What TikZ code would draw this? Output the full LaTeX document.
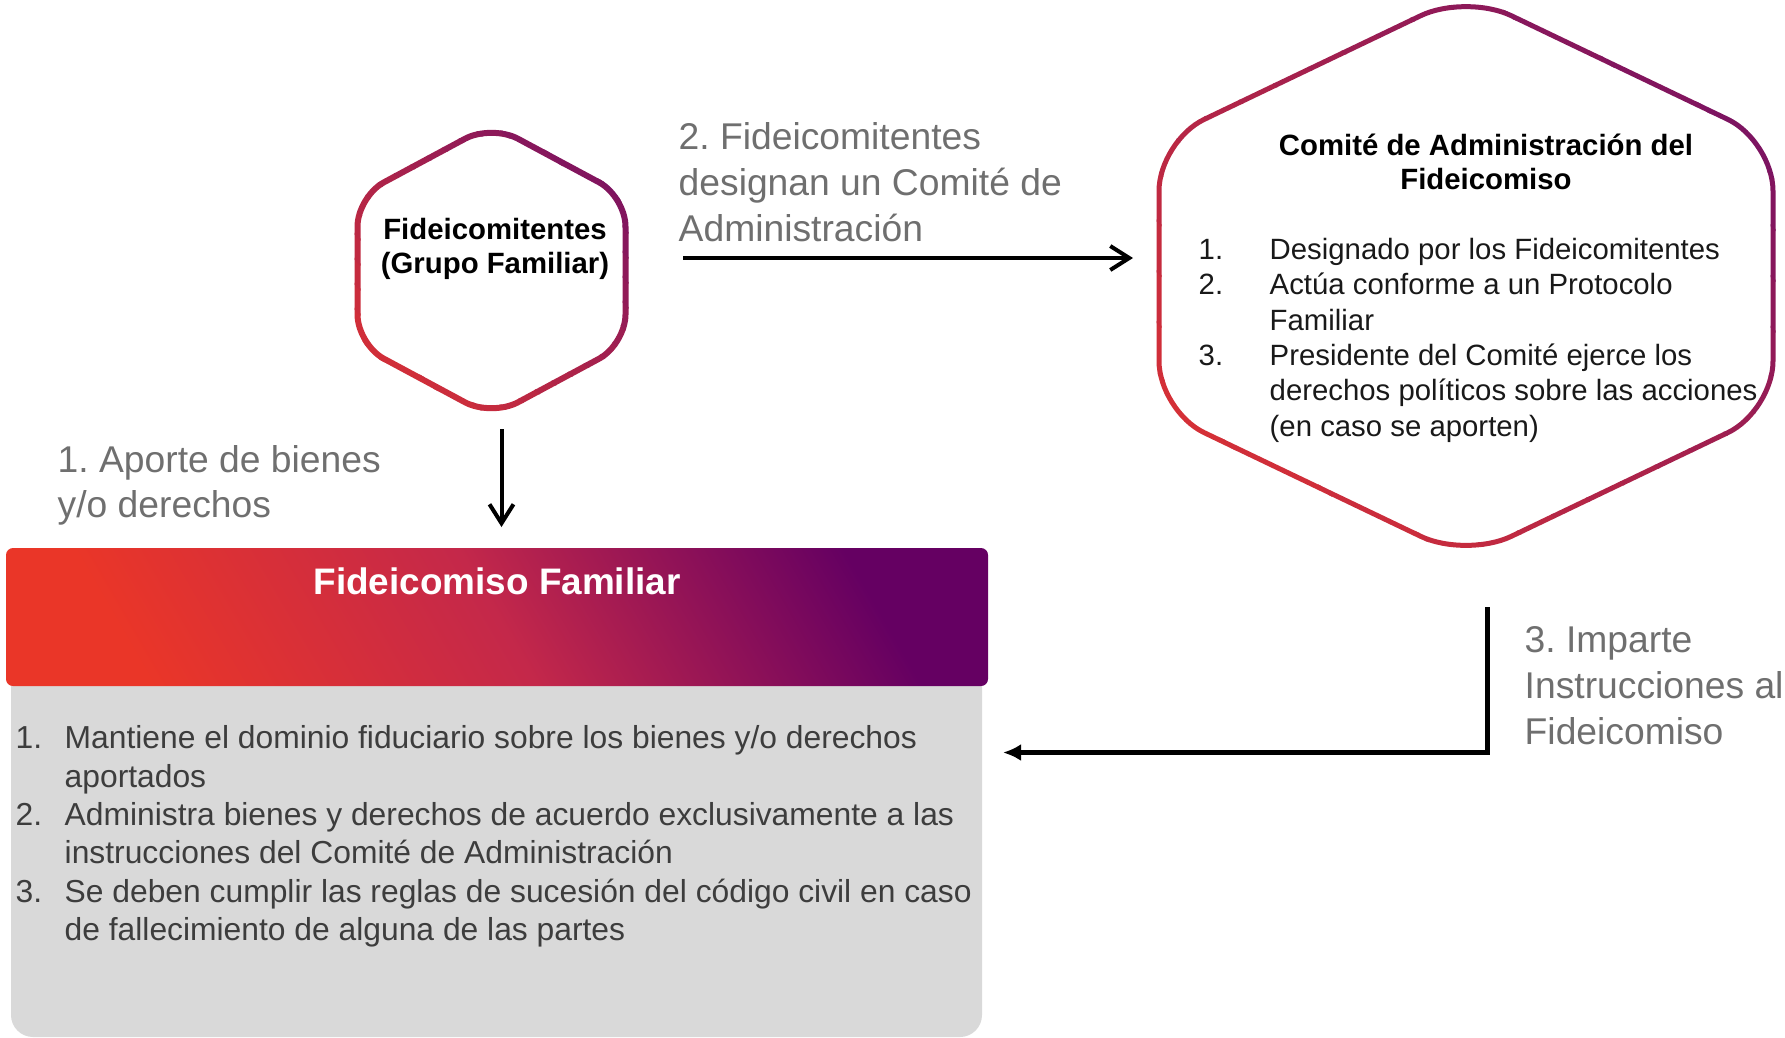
\documentclass[tikz,border=0pt]{standalone}
\usepackage{fontspec}
\setmainfont{Liberation Sans}
\usetikzlibrary{arrows.meta}
\frenchspacing

\definecolor{hexRed}{HTML}{E5352F}
\definecolor{hexPurple}{HTML}{6E0F68}
\definecolor{hdrRed}{HTML}{EA3628}
\definecolor{hdrMid}{HTML}{C4284A}
\definecolor{hdrPurple}{HTML}{650062}
\definecolor{labelGray}{HTML}{6F6F6F}
\definecolor{bodyGray}{HTML}{D9D9D9}
\definecolor{bodyText}{HTML}{3D3D3D}

\newcommand{\hexpath}[5]{(#1+#3,#2) -- (#1+#3,#2+#5) -- (#1,#2+#4) -- (#1-#3,#2+#5) -- (#1-#3,#2-#5) -- (#1,#2-#4) -- (#1+#3,#2-#5) -- cycle}

\newcommand{\gradhex}[7]{%
  \pgfmathsetmacro{\ulo}{#1-#3-#2-#4-20}
  \pgfmathsetmacro{\ustep}{(#1+#3-#2+#4+20-\ulo)/24}
  \foreach \k in {0,...,23}{
    \pgfmathsetmacro{\ua}{\ulo+\ustep*\k-1}
    \pgfmathsetmacro{\ub}{\ulo+\ustep*(\k+1)+1}
    \pgfmathtruncatemacro{\mix}{100-\k*100/23}
    \begin{scope}
      \clip (\ua+#2-1000,#2-1000) -- (\ua+#2+1000,#2+1000) -- (\ub+#2+1000,#2+1000) -- (\ub+#2-1000,#2-1000) -- cycle;
      \draw[line width=#7, draw=hexRed!\mix!hexPurple, rounded corners=#6] \hexpath{#1}{#2}{#3}{#4}{#5};
    \end{scope}
  }
}

\begin{document}
\begin{tikzpicture}[x=0.1mm,y=-0.1mm,
    glabel/.style={anchor=base west,inner sep=0pt,align=left,text=labelGray,font=\fontsize{10.6}{12.95}\selectfont},
    hextitle/.style={anchor=base,inner sep=0pt,align=center,font=\bfseries\fontsize{8.35}{9.7}\selectfont},
    hexlist/.style={anchor=base west,inner sep=0pt,align=left,text=black!90,font=\fontsize{8.35}{10.05}\selectfont},
    bodylist/.style={anchor=base west,inner sep=0pt,align=left,text=bodyText,font=\fontsize{9.05}{10.9}\selectfont},
    openarrow/.style={line width=0.4mm,-{Straight Barb[length=1.9mm,width=2.4mm]}},
    solidarrow/.style={line width=0.5mm,line join=miter,-{Latex[length=1.8mm,width=1.7mm]}}]
    \useasboundingbox (0,0) rectangle (1785,1037);

    \gradhex{491.5}{270.5}{134}{146}{74}{3mm}{0.6mm}
    \gradhex{1466}{276}{307}{282}{135}{5mm}{0.5mm}
    \coordinate (fideicomitentes) at (491.5,270.5);
    \coordinate (comite) at (1466,276);

    \node[hextitle] (grupo) at (495,273.5) {Fideicomitentes\\(Grupo Familiar)};
    \node[hextitle] (comiteTitle) at (1486,189.5) {Comité de Administración del\\Fideicomiso};
    \node[hexlist] (comiteList) at (1198,436) {\makebox[7.1mm][l]{1.}Designado por los Fideicomitentes\\
        \makebox[7.1mm][l]{2.}Actúa conforme a un Protocolo\\
        \hspace*{7.1mm}Familiar\\
        \makebox[7.1mm][l]{3.}Presidente del Comité ejerce los\\
        \hspace*{7.1mm}derechos políticos sobre las acciones\\
        \hspace*{7.1mm}(en caso se aporten)};

    \fill[bodyGray, rounded corners=2.2mm] (11,660) rectangle (982,1037);
    \shade[rounded corners=0.7mm, left color=hdrRed, right color=hdrPurple, middle color=hdrMid, shading angle=120] (6,548) rectangle (988,686);
    \node[anchor=base,inner sep=0pt,text=white,font=\bfseries\fontsize{10.5}{12.6}\selectfont] (familiar) at (497,594) {Fideicomiso Familiar};
    \node[bodylist] (familiarList) at (15,940.5) {\makebox[4.9mm][l]{1.}Mantiene el dominio fiduciario sobre los bienes y/o derechos\\
        \hspace*{4.9mm}aportados\\
        \makebox[4.9mm][l]{2.}Administra bienes y derechos de acuerdo exclusivamente a las\\
        \hspace*{4.9mm}instrucciones del Comité de Administración\\
        \makebox[4.9mm][l]{3.}Se deben cumplir las reglas de sucesión del código civil en caso\\
        \hspace*{4.9mm}de fallecimiento de alguna de las partes};

    \node[glabel] (designan) at (678,241) {2. Fideicomitentes\\designan un Comité de\\Administración};
    \node[glabel] (aporte) at (57,517.5) {1. Aporte de bienes\\y/o derechos};
    \node[glabel] (imparte) at (1524,744) {3. Imparte\\Instrucciones al\\Fideicomiso};

    \coordinate (aporteStart) at (501.5,429);
    \coordinate (aporteEnd) at (501.5,527);
    \coordinate (designaStart) at (683,258);
    \coordinate (designaEnd) at (1133,258);
    \coordinate (imparteStart) at (1487,607);
    \coordinate (imparteEnd) at (1003,752.5);
    \draw[openarrow] (aporteStart) -- (aporteEnd);
    \draw[openarrow] (designaStart) -- (designaEnd);
    \draw[solidarrow] (imparteStart) |- (imparteEnd);
\end{tikzpicture}
\end{document}
